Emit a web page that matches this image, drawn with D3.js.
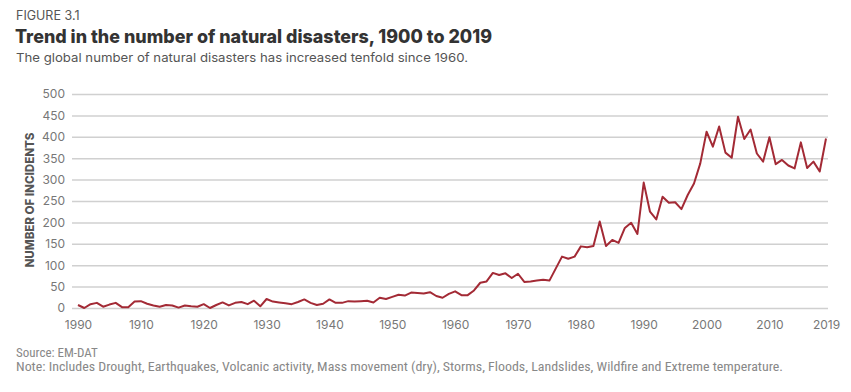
<!DOCTYPE html>
<html><head><meta charset="utf-8">
<script src="https://cdn.jsdelivr.net/npm/d3@7"></script>
<style>
html,body{margin:0;padding:0;background:#fff;}
svg{display:block;}
</style></head>
<body>
<svg id="chart" width="851" height="392"></svg>
<script>
const years = d3.range(1900, 2020);
const incidents = [
 7,0,9,12,3,8,12,2,2,15,
 16,10,6,3,7,6,1,6,4,3,
 9,0,7,13,6,12,14,9,17,4,
 21,15,13,11,9,14,20,12,7,10,
 20,12,12,16,15,16,17,13,24,21,
 26,31,29,36,35,34,37,28,24,33,
 39,30,30,41,59,62,82,77,81,70,
 80,61,62,64,66,64,92,120,115,120,
 144,142,145,202,145,159,152,187,199,173,
 293,225,207,260,246,247,231,264,291,338,
 412,377,424,363,351,447,395,417,361,342,
 399,336,346,333,326,387,327,342,319,396
];
const yTicks = [0,50,100,150,200,250,300,350,400,450,500];
const xTickYears = [1900,1910,1920,1930,1940,1950,1960,1970,1980,1990,2000,2010,2019];
const xTickLabels = ["1990","1910","1920","1930","1940","1950","1960","1970","1980","1990","2000","2010","2019"];

const svg = d3.select("#chart");
const x = d3.scaleLinear().domain([1900, 2019]).range([78, 826]);
const y = d3.scaleLinear().domain([0, 500]).range([308, 94]);
const F = "Inter, 'Open Sans', sans-serif";
const FN = "'Liberation Sans Narrow', 'Roboto Condensed', Roboto, sans-serif";

// header
svg.append("text").attr("x",16).attr("y",20).text("FIGURE 3.1")
  .attr("font-family",F).attr("font-size",12.5).attr("fill","#555");
svg.append("text").attr("x",15).attr("y",43).text("Trend in the number of natural disasters, 1900 to 2019")
  .attr("font-family",F).attr("font-weight",800).attr("font-size",18.5).attr("fill","#333")
  .attr("textLength",477).attr("lengthAdjust","spacingAndGlyphs");
svg.append("text").attr("x",16).attr("y",62).text("The global number of natural disasters has increased tenfold since 1960.")
  .attr("font-family",F).attr("font-size",12.2).attr("fill","#555")
  .attr("textLength",452).attr("lengthAdjust","spacingAndGlyphs");

// grid + y axis
const yAxis = d3.axisLeft(y).tickValues(yTicks).tickSize(-(828-72)).tickPadding(7);
const gy = svg.append("g").attr("transform","translate(72,0)").call(yAxis);
gy.select(".domain").remove();
gy.selectAll(".tick line").attr("stroke","#d0d0d0").attr("stroke-width",1.5);
gy.selectAll(".tick text").attr("font-family",F).attr("font-size",12).attr("fill","#777");

// x axis
const xAxis = d3.axisBottom(x).tickValues(xTickYears).tickFormat((d,i)=>xTickLabels[i]).tickSize(0).tickPadding(12);
const gx = svg.append("g").attr("transform","translate(0,308)").call(xAxis);
gx.select(".domain").remove();
gx.selectAll(".tick text").attr("font-family",F).attr("font-size",12).attr("fill","#777");

// y title
svg.append("text").attr("transform","translate(34,200) rotate(-90)").attr("text-anchor","middle")
  .text("NUMBER OF INCIDENTS")
  .attr("font-family",F).attr("font-weight",800).attr("font-size",12).attr("fill","#555")
  .attr("textLength",135).attr("lengthAdjust","spacingAndGlyphs");

// line
const line = d3.line().x((d,i)=>x(years[i])).y(d=>y(d));
svg.append("path").datum(incidents).attr("d",line)
  .attr("fill","none").attr("stroke","#a32a35").attr("stroke-width",2).attr("stroke-linejoin","round");

// footer
svg.append("text").attr("x",16).attr("y",357).text("Source: EM-DAT")
  .attr("font-family",FN).attr("font-size",13).attr("fill","#888");
svg.append("text").attr("x",16).attr("y",371).text("Note: Includes Drought, Earthquakes, Volcanic activity, Mass movement (dry), Storms, Floods, Landslides, Wildfire and Extreme temperature.")
  .attr("font-family",FN).attr("font-size",13).attr("fill","#888")
  .attr("textLength",767).attr("lengthAdjust","spacingAndGlyphs");
</script>
</body></html>
